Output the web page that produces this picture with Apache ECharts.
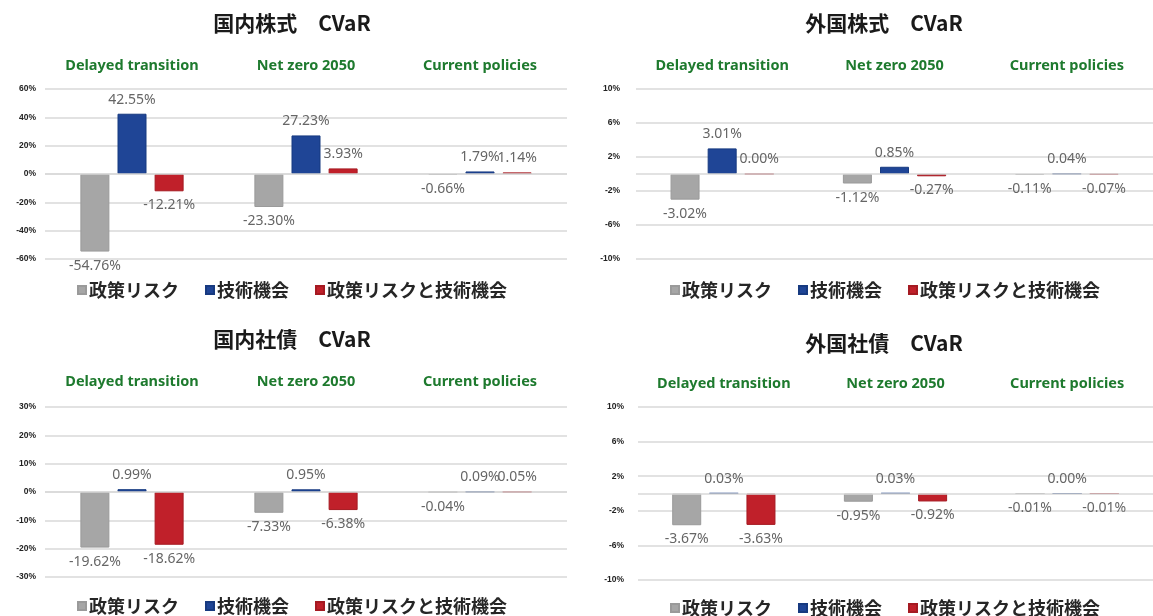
<!DOCTYPE html>
<html>
<head>
<meta charset="utf-8">
<script src="https://cdn.jsdelivr.net/npm/echarts@6/dist/echarts.min.js"></script>
<style>
  html, body { margin: 0; padding: 0; background: #fff; }
  #chart { width: 1153px; height: 616px; }
</style>
</head>
<body>
<div id="chart"></div>
<script>
const categories = ['Delayed transition', 'Net zero 2050', 'Current policies'];
const seriesNames = ['政策リスク', '技術機会', '政策リスクと技術機会'];

// 国内株式
const domEqPolicy = [-54.76, -23.30, -0.66];
const domEqTech = [42.55, 27.23, 1.79];
const domEqBoth = [-12.21, 3.93, 1.14];
const domEqTicks = [-60, -40, -20, 0, 20, 40, 60];

// 外国株式
const forEqPolicy = [-3.02, -1.12, -0.11];
const forEqTech = [3.01, 0.85, 0.04];
const forEqBoth = [0.00, -0.27, -0.07];
const forEqTicks = [-10, -6, -2, 2, 6, 10];

// 国内社債
const domBondPolicy = [-19.62, -7.33, -0.04];
const domBondTech = [0.99, 0.95, 0.09];
const domBondBoth = [-18.62, -6.38, 0.05];
const domBondTicks = [-30, -20, -10, 0, 10, 20, 30];

// 外国社債
const forBondPolicy = [-3.67, -0.95, -0.01];
const forBondTech = [0.03, 0.03, 0.00];
const forBondBoth = [-3.63, -0.92, -0.01];
const forBondTicks = [-10, -6, -2, 2, 6, 10];

const colors = ['#a6a6a6', '#1f4596', '#c0202a'];
const borders = ['#9a9a9a', '#173a80', '#a51a22'];

// panel layout
const panels = [
  { title: '国内株式　CVaR', titleX: 292, titleY: 13, grid: { left: 45, width: 522, top: 89, height: 170 }, catMargin: 16, yMargin: 9, legendX: 77, legendY: 281,
    data: [domEqPolicy, domEqTech, domEqBoth], ticks: domEqTicks },
  { title: '外国株式　CVaR', titleX: 884, titleY: 13, grid: { left: 636, width: 530, top: 89, height: 170 }, catMargin: 16, yMargin: 16, legendX: 670, legendY: 281,
    data: [forEqPolicy, forEqTech, forEqBoth], ticks: forEqTicks },
  { title: '国内社債　CVaR', titleX: 292, titleY: 329, grid: { left: 45, width: 522, top: 407, height: 170 }, catMargin: 18, yMargin: 9, legendX: 77, legendY: 597,
    data: [domBondPolicy, domBondTech, domBondBoth], ticks: domBondTicks },
  { title: '外国社債　CVaR', titleX: 884, titleY: 333, grid: { left: 638, width: 530, top: 407, height: 173 }, catMargin: 16, yMargin: 14, legendX: 670, legendY: 599,
    data: [forBondPolicy, forBondTech, forBondBoth], ticks: forBondTicks }
];

const title = [], grid = [], xAxis = [], yAxis = [], legend = [], series = [];

panels.forEach((p, i) => {
  title.push({
    text: p.title, left: p.titleX, top: p.titleY, textAlign: 'center', padding: 0,
    textStyle: { fontFamily: 'Noto Sans CJK JP', fontSize: 21, fontWeight: 'bold', color: '#1a1a1a' }
  });
  grid.push(p.grid);
  xAxis.push({
    type: 'category', gridIndex: i, data: categories, position: 'top',
    axisLine: { show: false, onZero: false }, axisTick: { show: false },
    axisLabel: { interval: 0, margin: p.catMargin, color: '#1e7a2e', fontFamily: 'Noto Sans', fontWeight: 'bold', fontSize: 14.5 },
    splitLine: { show: false }
  });
  yAxis.push({
    type: 'value', gridIndex: i,
    min: p.ticks[0], max: p.ticks[p.ticks.length - 1], interval: p.ticks[1] - p.ticks[0],
    axisLine: { show: false }, axisTick: { show: false },
    axisLabel: { formatter: '{value}%', margin: p.yMargin, color: '#222', fontSize: 8.5, fontWeight: 'bold', fontFamily: 'Liberation Sans' },
    splitLine: { lineStyle: { color: '#d9d9d9', width: 1.5 } }
  });
  legend.push({
    data: seriesNames, left: p.legendX, top: p.legendY, padding: 0,
    icon: 'rect', itemWidth: 8, itemHeight: 8, itemGap: 26,
    textStyle: { fontFamily: 'Noto Sans CJK JP', fontSize: 18, fontWeight: 'bold', color: '#262626', padding: [0, 0, 0, -2] }
  });
  p.data.forEach((vals, k) => {
    const s = {
      name: seriesNames[k], type: 'bar', xAxisIndex: i, yAxisIndex: i,
      barWidth: 29, barGap: '28%',
      itemStyle: { color: colors[k], borderColor: borders[k], borderWidth: 1 },
      label: {
        show: true, color: '#666', fontSize: 14, fontFamily: 'Noto Sans', distance: 7,
        formatter: (d) => d.value.toFixed(2) + '%'
      },
      labelLayout: { hideOverlap: false },
      data: vals.map(v => ({ value: v, label: { position: v < 0 ? 'bottom' : 'top' } }))
    };
    if (k === 0) {
      s.markLine = {
        silent: true, symbol: 'none', label: { show: false },
        lineStyle: { color: '#d9d9d9', width: 1.5, type: 'solid' },
        data: [{ yAxis: 0 }]
      };
    }
    series.push(s);
  });
});

const myChart = echarts.init(document.getElementById('chart'));
myChart.setOption({
  animation: false,
  title: title,
  grid: grid,
  xAxis: xAxis,
  yAxis: yAxis,
  legend: legend,
  series: series
});
</script>
</body>
</html>
